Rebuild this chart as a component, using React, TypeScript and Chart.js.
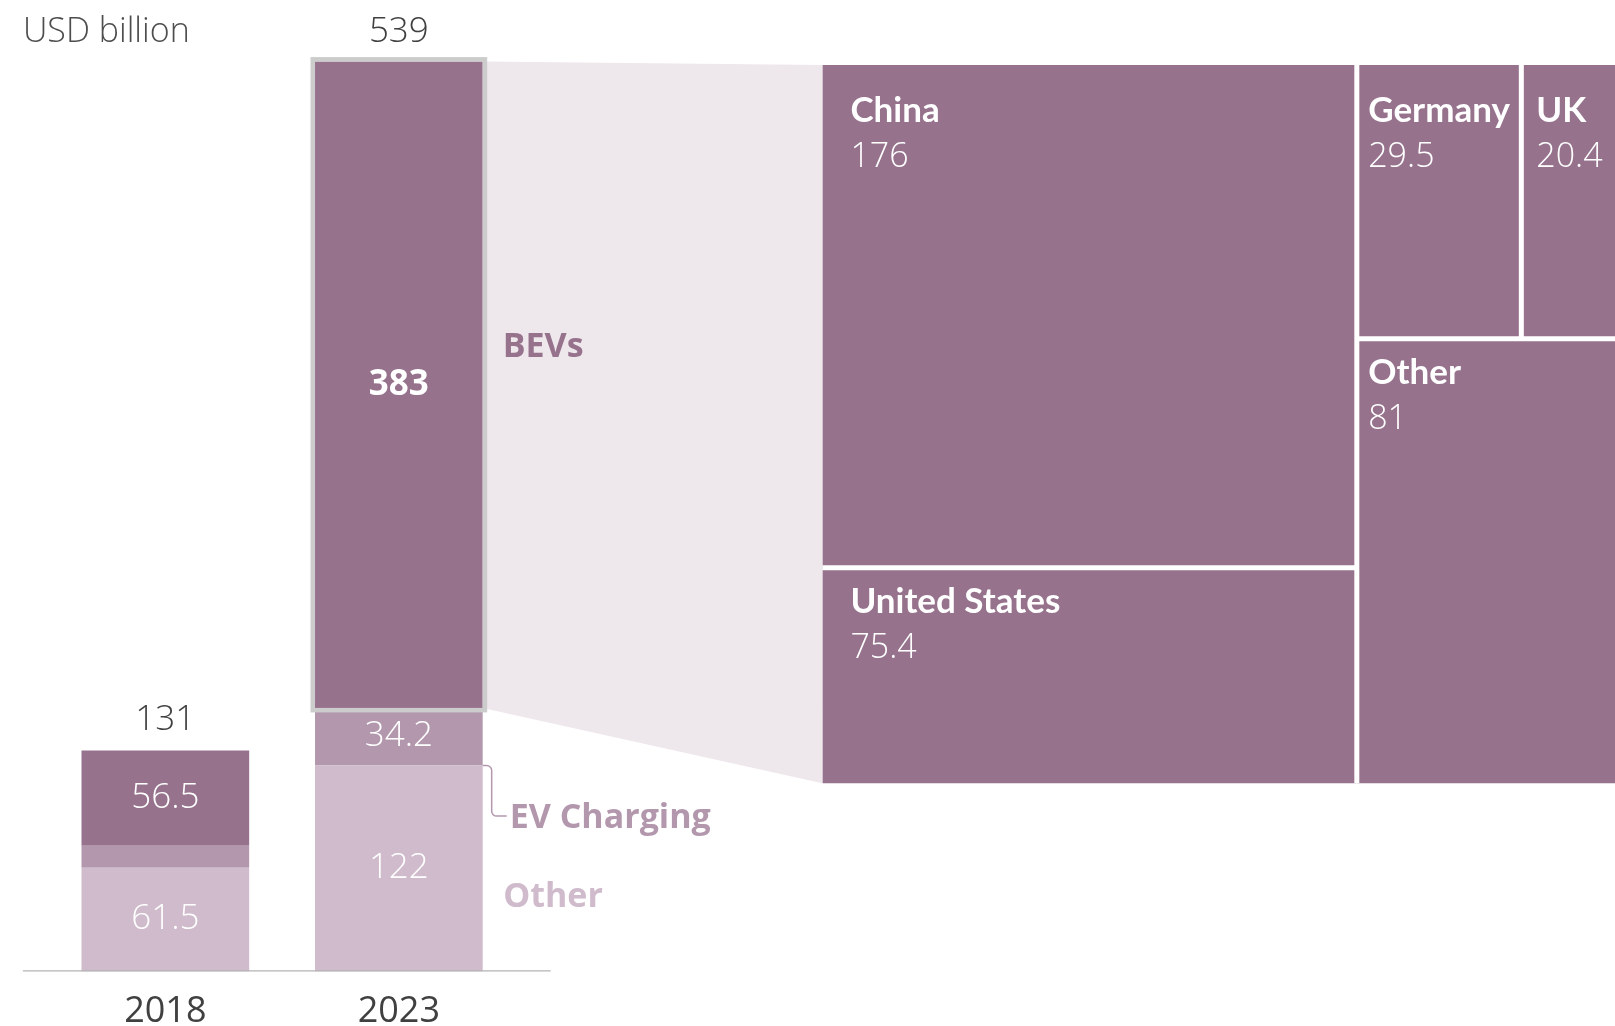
import React, { useEffect, useRef } from 'react';
import { Chart, registerables } from 'chart.js';

Chart.register(...registerables);

// ---------- data ----------
const YEARS = [2018, 2023];
const TOTALS = [131, 539];
const BEVS = [56.5, 383];
const EV_CHARGING = [13, 34.2];
const OTHER = [61.5, 122];
const SERIES_NAMES = ['Other', 'EV Charging', 'BEVs'];
const UNIT_LABEL = 'USD billion';

const COUNTRIES = ['China', 'United States', 'Germany', 'UK', 'Other'];
const COUNTRY_VALUES = [176, 75.4, 29.5, 20.4, 81];

// treemap arrangement (leaf = index into COUNTRIES)
type TNode = number | { dir: 'h' | 'v'; children: TNode[] };
const TREEMAP_TREE: TNode = {
  dir: 'h',
  children: [
    { dir: 'v', children: [0, 1] },
    { dir: 'v', children: [{ dir: 'h', children: [2, 3] }, 4] },
  ],
};

// ---------- axis ranges ----------
const X_MIN = 2014.46;
const X_MAX = 2049.04;
const BASELINE_FROM = 2014.95;
const BASELINE_TO = 2026.25;
const Y_MAX = 575.7;
const TX_MIN = -1.01193;
const TX_MAX = 0.97528;
const TY_MIN = -0.26201;
const TY_MAX = 1.09049;
const HIGHLIGHT = 1;

// ---------- styles ----------
const C_BEV = '#96728d';
const C_EV = '#b398ad';
const C_OTHER = '#cfbbcb';
const C_FUNNEL = '#eee7ec';
const C_BORDER = '#cccccc';
const C_TEXT = '#404040';
const C_UNIT = '#4d4d4d';
const FONT = '"Open Sans", "Noto Sans", sans-serif';
const FONT_TM = 'Lato, "Open Sans", sans-serif';
const font = (w: number, s: number, f: string = FONT) => `${w} ${s}px ${f}`;

const DS_OTHER = 0;
const DS_EV = 1;
const DS_BEV = 2;
const SERIES_VALUES = [OTHER, EV_CHARGING, BEVS];
const SERIES_COLORS = [C_OTHER, C_EV, C_BEV];

// ---------- treemap layout ----------
type Cell = { i: number; x0: number; y0: number; x1: number; y1: number };
type Seg = { x0: number; y0: number; x1: number; y1: number };

function nodeSum(n: TNode): number {
  return typeof n === 'number' ? COUNTRY_VALUES[n] : n.children.reduce((s, c) => s + nodeSum(c), 0);
}

function layout(n: TNode, x0: number, y0: number, x1: number, y1: number, cells: Cell[], segs: Seg[]) {
  if (typeof n === 'number') {
    cells.push({ i: n, x0, y0, x1, y1 });
    return;
  }
  const total = nodeSum(n);
  let acc = 0;
  n.children.forEach((c, k) => {
    const f0 = acc / total;
    acc += nodeSum(c);
    const f1 = acc / total;
    if (n.dir === 'h') {
      const a = x0 + (x1 - x0) * f0;
      const b = x0 + (x1 - x0) * f1;
      layout(c, a, y0, b, y1, cells, segs);
      if (k > 0) segs.push({ x0: a, y0, x1: a, y1 });
    } else {
      const a = y1 - (y1 - y0) * f0;
      const b = y1 - (y1 - y0) * f1;
      layout(c, x0, b, x1, a, cells, segs);
      if (k > 0) segs.push({ x0, y0: a, x1, y1: a });
    }
  });
}

const CELLS: Cell[] = [];
const SEPARATORS: Seg[] = [];
layout(TREEMAP_TREE, 0, 0, 1, 1, CELLS, SEPARATORS);

const fmt = (v: number) => String(v);

function centeredBaseline(ctx: CanvasRenderingContext2D, text: string, center: number) {
  const m = ctx.measureText(text);
  return center + (m.actualBoundingBoxAscent - m.actualBoundingBoxDescent) / 2;
}

const customPlugin = {
  id: 'custom',
  beforeDatasetsDraw(chart: any) {
    const ctx: CanvasRenderingContext2D = chart.ctx;
    const el = chart.getDatasetMeta(DS_BEV).data[HIGHLIGHT] as any;
    const right = el.x + el.width / 2;
    const tx = chart.scales.tx;
    const ty = chart.scales.ty;
    ctx.save();
    ctx.fillStyle = C_FUNNEL;
    ctx.beginPath();
    ctx.moveTo(right, el.y);
    ctx.lineTo(tx.getPixelForValue(0), ty.getPixelForValue(1));
    ctx.lineTo(tx.getPixelForValue(0), ty.getPixelForValue(0));
    ctx.lineTo(right, el.base);
    ctx.closePath();
    ctx.fill();
    ctx.restore();
  },
  afterDatasetsDraw(chart: any) {
    const ctx: CanvasRenderingContext2D = chart.ctx;
    const xs = chart.scales.x;
    const tx = chart.scales.tx;
    const ty = chart.scales.ty;
    ctx.save();

    // highlight border round the broken-down bar segment
    const hl = chart.getDatasetMeta(DS_BEV).data[HIGHLIGHT] as any;
    const bw = 4.5;
    ctx.strokeStyle = C_BORDER;
    ctx.lineWidth = bw;
    ctx.strokeRect(hl.x - hl.width / 2 - bw / 2, hl.y - bw / 2, hl.width + bw, hl.base - hl.y + bw);

    // segment values
    ctx.textAlign = 'center';
    ctx.textBaseline = 'alphabetic';
    ctx.fillStyle = '#ffffff';
    for (let d = 0; d < 3; d++) {
      const meta = chart.getDatasetMeta(d);
      meta.data.forEach((el: any, i: number) => {
        const h = el.base - el.y;
        if (h < 40) return;
        const bold = d === DS_BEV && i === HIGHLIGHT;
        ctx.font = font(bold ? 700 : 300, 35);
        const t = fmt(SERIES_VALUES[d][i]);
        ctx.fillText(t, el.x, centeredBaseline(ctx, t, (el.y + el.base) / 2 - 3));
      });
    }

    // totals
    ctx.fillStyle = C_TEXT;
    ctx.font = font(300, 35);
    let topBaseline = Infinity;
    chart.getDatasetMeta(DS_BEV).data.forEach((el: any, i: number) => {
      const b = el.y - 20;
      topBaseline = Math.min(topBaseline, b);
      ctx.fillText(fmt(TOTALS[i]), el.x, b);
    });

    // unit label
    ctx.textAlign = 'left';
    ctx.fillStyle = C_UNIT;
    ctx.font = font(300, 34);
    ctx.fillText(UNIT_LABEL, xs.getPixelForValue(BASELINE_FROM), topBaseline);

    // series labels beside the last bar
    const last = YEARS.length - 1;
    const bev = chart.getDatasetMeta(DS_BEV).data[last] as any;
    const ev = chart.getDatasetMeta(DS_EV).data[last] as any;
    const oth = chart.getDatasetMeta(DS_OTHER).data[last] as any;
    const right = bev.x + bev.width / 2;
    ctx.font = font(700, 34);
    const capH = ctx.measureText('H').actualBoundingBoxAscent;

    ctx.fillStyle = SERIES_COLORS[DS_BEV];
    ctx.fillText(SERIES_NAMES[DS_BEV], right + 20, (bev.y + bev.base) / 2 - 40 + capH / 2);

    const evCenter = ev.base + 50.5;
    ctx.fillStyle = SERIES_COLORS[DS_EV];
    ctx.fillText(SERIES_NAMES[DS_EV], right + 27, evCenter + capH / 2);
    ctx.strokeStyle = SERIES_COLORS[DS_EV];
    ctx.lineWidth = 1.5;
    const xv = right + 9;
    ctx.beginPath();
    ctx.moveTo(right, ev.base);
    ctx.arcTo(xv, ev.base, xv, evCenter, 5);
    ctx.arcTo(xv, evCenter, right + 24, evCenter, 5);
    ctx.lineTo(right + 24, evCenter);
    ctx.stroke();

    ctx.fillStyle = SERIES_COLORS[DS_OTHER];
    ctx.fillText(SERIES_NAMES[DS_OTHER], right + 20.5, (oth.y + oth.base) / 2 + 26.5 + capH / 2);

    // treemap labels
    const gap = 5;
    const areaRight = chart.chartArea.right;
    const items = CELLS.map((c) => {
      const left = tx.getPixelForValue(c.x0) + (c.x0 > 0 ? gap / 2 : 0);
      const r = Math.min(tx.getPixelForValue(c.x1) - (c.x1 < 1 ? gap / 2 : 0), areaRight);
      const atTop = c.y1 >= 1;
      const top = ty.getPixelForValue(c.y1) + (atTop ? 0 : gap / 2);
      ctx.font = font(700, 35, FONT_TM);
      const w1 = ctx.measureText(COUNTRIES[c.i]).width;
      ctx.font = font(300, 34);
      const w2 = ctx.measureText(fmt(COUNTRY_VALUES[c.i])).width;
      const pad = Math.min(28, Math.max(6, (r - left - Math.max(w1, w2)) / 2));
      return { c, left, top, atTop, pad };
    });
    items.forEach((it) => {
      items.forEach((o) => {
        if (Math.abs(o.left - it.left) < 1) it.pad = Math.min(it.pad, o.pad);
      });
    });
    ctx.fillStyle = '#ffffff';
    items.forEach((it) => {
      const nameBase = it.top + (it.atTop ? 57.5 : 43);
      ctx.font = font(700, 35, FONT_TM);
      ctx.fillText(COUNTRIES[it.c.i], it.left + it.pad, nameBase);
      ctx.font = font(300, 34);
      ctx.fillText(fmt(COUNTRY_VALUES[it.c.i]), it.left + it.pad, nameBase + 45);
    });

    ctx.restore();
  },
};

export default function App() {
  const ref = useRef<HTMLCanvasElement>(null);

  useEffect(() => {
    if (!ref.current) return;
    const barDatasets = SERIES_VALUES.map((vals, d) => ({
      type: 'bar' as const,
      label: SERIES_NAMES[d],
      data: YEARS.map((x, i) => ({ x, y: vals[i] })),
      backgroundColor: SERIES_COLORS[d],
      borderWidth: 0,
      grouped: false,
      xAxisID: 'x',
      yAxisID: 'y',
      order: 3,
    }));
    const baseline = {
      type: 'line' as const,
      label: 'axis',
      data: [
        { x: BASELINE_FROM, y: 0 },
        { x: BASELINE_TO, y: 0 },
      ],
      borderColor: '#b3b3b3',
      borderWidth: 2.5,
      pointRadius: 0,
      fill: false,
      xAxisID: 'x',
      yAxisID: 'y',
      order: 0,
    };
    const cellDatasets = CELLS.map((c) => ({
      type: 'line' as const,
      label: COUNTRIES[c.i],
      data: [
        { x: c.x0, y: c.y1 },
        { x: c.x1, y: c.y1 },
      ],
      borderColor: 'rgba(0,0,0,0)',
      borderWidth: 1,
      pointRadius: 0,
      backgroundColor: C_BEV,
      fill: { value: c.y0 },
      xAxisID: 'tx',
      yAxisID: 'ty',
      order: 2,
    }));
    const sepDatasets = SEPARATORS.map((s) => ({
      type: 'line' as const,
      label: 'sep',
      data: [
        { x: s.x0, y: s.y0 },
        { x: s.x1, y: s.y1 },
      ],
      borderColor: '#ffffff',
      borderWidth: 5,
      borderCapStyle: 'butt' as const,
      pointRadius: 0,
      fill: false,
      xAxisID: 'tx',
      yAxisID: 'ty',
      order: 1,
    }));

    const chart = new Chart(ref.current, {
      type: 'bar',
      data: { datasets: [...barDatasets, baseline, ...cellDatasets, ...sepDatasets] as any },
      options: {
        responsive: false,
        animation: false,
        events: [],
        layout: { padding: 0 },
        datasets: { bar: { barPercentage: 0.718, categoryPercentage: 1, grouped: false } },
        plugins: { legend: { display: false }, tooltip: { enabled: false }, title: { display: false } },
        scales: {
          x: {
            type: 'linear',
            position: 'bottom',
            min: X_MIN,
            max: X_MAX,
            offset: false,
            stacked: true,
            grid: { display: false, drawTicks: false, offset: false },
            border: { display: false },
            afterBuildTicks: (axis: any) => {
              axis.ticks = YEARS.map((v) => ({ value: v }));
            },
            afterFit: (scale: any) => {
              scale.height = 54.5;
            },
            ticks: {
              callback: (v: any) => String(v),
              font: { family: FONT, size: 36, weight: 400 as any },
              color: C_TEXT,
              padding: 19,
              maxRotation: 0,
              autoSkip: false,
            },
          },
          y: { type: 'linear', display: false, min: 0, max: Y_MAX, stacked: true },
          tx: {
            type: 'linear',
            axis: 'x',
            display: false,
            offset: false,
            grid: { offset: false },
            min: TX_MIN,
            max: TX_MAX,
          },
          ty: { type: 'linear', axis: 'y', display: false, min: TY_MIN, max: TY_MAX },
        } as any,
      },
      plugins: [customPlugin],
    });
    return () => chart.destroy();
  }, []);

  return (
    <div style={{ position: 'fixed', left: 0, top: 0, width: 1615, height: 1026, background: '#ffffff' }}>
      <canvas ref={ref} width={1615} height={1026} style={{ display: 'block', width: 1615, height: 1026 }} />
    </div>
  );
}
